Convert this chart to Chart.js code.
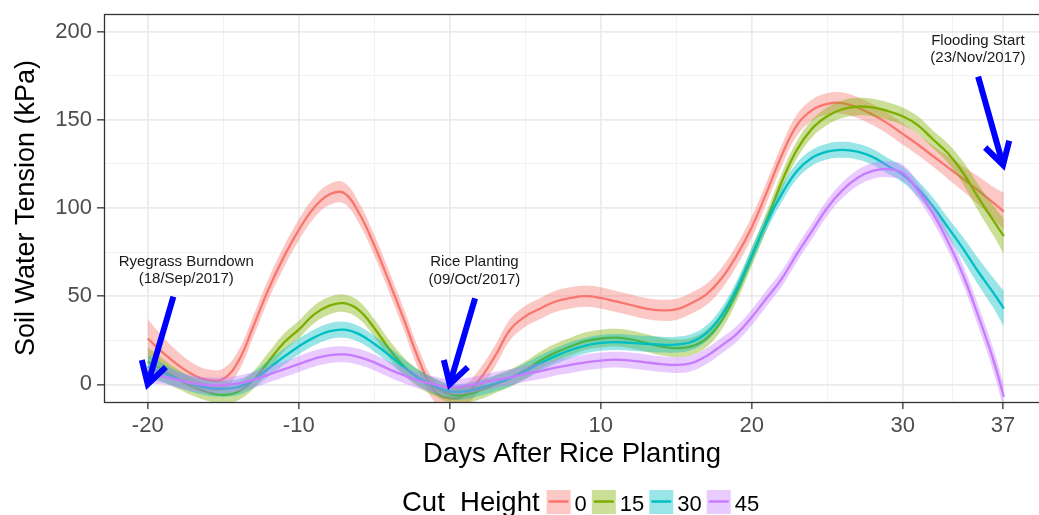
<!DOCTYPE html>
<html>
<head>
<meta charset="utf-8">
<script src="https://cdn.jsdelivr.net/npm/chart.js@4/dist/chart.umd.min.js"></script>
<style>
  html, body { margin: 0; padding: 0; background: #fff; }
  #wrap { width: 1039px; height: 515px; }
</style>
</head>
<body>
<div id="wrap"><canvas id="c" width="1039" height="515"></canvas></div>
<script>
// Soil water tension, loess fits per cut height with their confidence bands.
const days = [
  -20, -19, -18, -17, -16, -15, -14, -13, -12, -11,
  -10, -9, -8, -7, -6, -5, -4, -3, -2, -1,
  0, 1, 2, 3, 4, 5, 6, 7, 8, 9,
  10, 11, 12, 13, 14, 15, 16, 17, 18, 19,
  20, 21, 22, 23, 24, 25, 26, 27, 28, 29,
  30, 31, 32, 33, 34, 35, 36, 36.7
];

const cutHeights = ['0', '15', '30', '45'];
const cutColors  = ['#F8766D', '#7CAE00', '#00BFC4', '#C77CFF'];

const fit0 = [
  26, 18, 11, 5.5, 2.5, 3, 13, 33, 54, 72,
  87.5, 100, 107.5, 108.5, 97, 79, 58, 36, 13, -4,
  -8, -6, 3, 16, 31, 38.5, 43, 47, 49, 50,
  49, 47, 45, 43, 42, 42.5, 46, 51, 60, 73,
  89, 109, 130, 147, 155.5, 159, 159.5, 157, 153, 148,
  142, 136, 129.5, 123, 116.5, 110, 103, 98
];
const fit15 = [
  13, 8, 3, -1.5, -4.5, -6, -4, 2.5, 13, 23.5,
  31, 39.5, 44.5, 46, 42, 32, 20, 10, 3, -1.5,
  -5.5, -6, -3.5, 0, 3.5, 8, 13.5, 18, 21.5, 24.5,
  26, 26.5, 25.5, 23.5, 21.5, 20.5, 21.5, 26, 36, 52,
  72, 93, 115, 133, 145, 152, 156, 157.5, 157, 155,
  152, 147, 139, 131, 120, 106, 93, 84
];
const fit30 = [
  10, 6.5, 3, 0, -2, -2.5, -1.5, 2.5, 9, 15.5,
  21.5, 26.5, 30, 31, 28.5, 23, 16.5, 9.5, 3.5, -1,
  -4, -4, -2, 0.5, 3.5, 7.5, 12, 16, 19.5, 22,
  23.5, 24, 23.5, 23, 22.5, 22.5, 24, 29, 39, 54,
  73, 92, 108, 121, 128.5, 132, 133, 132, 129, 124,
  119, 111, 101, 89, 77, 64, 52, 43
];
const fit45 = [
  6, 4.5, 2.5, 0.5, -0.5, -0.5, 0.5, 2.5, 5.5, 8.5,
  11.5, 14.5, 16.5, 17, 15.5, 12.5, 8.5, 5, 2, 0,
  -1.5, -1, 0.5, 2.5, 4, 6, 7.5, 9.5, 11, 12.5,
  13.5, 14, 13.5, 12.5, 11.5, 11, 12, 16, 22, 28.5,
  38, 49, 60, 74, 87, 100, 110, 117, 121, 122,
  120, 110, 97, 81, 62, 39, 14, -7
];

// half-width of the 95% band around each fit
const ci0 = [
  11, 9, 7.5, 6.5, 6, 6, 6, 6, 6, 6,
  6, 6, 6, 6, 6, 6, 6, 6, 6, 6,
  6, 6, 6, 6, 6, 6, 6, 6, 6, 6,
  6, 6, 6, 6, 6, 6, 6, 6, 6, 6,
  6, 6, 6, 6, 6, 6, 6, 6, 6, 6,
  6, 6, 6, 6.5, 7, 8, 9, 10.5
];
const ci15 = [
  8, 6.5, 5.5, 5, 5, 5, 5, 5, 5, 5,
  5, 5, 5, 5, 5, 5, 5, 5, 5, 5,
  5, 5, 5, 5, 5, 5, 5, 5, 5, 5,
  5, 5, 5, 5, 5, 5, 5, 5, 5, 5,
  5, 5, 5, 5, 5, 5, 5, 5, 5, 5,
  5, 5, 5, 5.5, 6.5, 7.5, 8.5, 10
];
const ci30 = [
  6.5, 5.5, 4.5, 4.5, 4.5, 4.5, 4.5, 4.5, 4.5, 4.5,
  4.5, 4.5, 4.5, 4.5, 4.5, 4.5, 4.5, 4.5, 4.5, 4.5,
  4.5, 4.5, 4.5, 4.5, 4.5, 4.5, 4.5, 4.5, 4.5, 4.5,
  4.5, 4.5, 4.5, 4.5, 4.5, 4.5, 4.5, 4.5, 4.5, 4.5,
  4.5, 4.5, 4.5, 4.5, 4.5, 4.5, 4.5, 4.5, 4.5, 4.5,
  4.5, 4.5, 5, 5.5, 6.5, 7.5, 8.5, 10
];
const ci45 = [
  5.5, 4.5, 4.5, 4.5, 4.5, 4.5, 4.5, 4.5, 4.5, 4.5,
  4.5, 4.5, 4.5, 4.5, 4.5, 4.5, 4.5, 4.5, 4.5, 4.5,
  4.5, 4.5, 4.5, 4.5, 4.5, 4.5, 4.5, 4.5, 4.5, 4.5,
  4.5, 4.5, 4.5, 4.5, 4.5, 4.5, 4.5, 4.5, 4.5, 4.5,
  4.5, 4.5, 4.5, 4.5, 4.5, 4.5, 4.5, 4.5, 4.5, 4.5,
  4.5, 4.5, 5, 5, 5.5, 6, 6.5, 7
];

const xBreaks      = [-20, -10, 0, 10, 20, 30, 36.65];
const xBreakLabels = ['-20', '-10', '0', '10', '20', '30', '37'];
const xMinorBreaks = [-15, -5, 5, 15, 25, 33.33];
const yBreaks      = [0, 50, 100, 150, 200];
const yMinorBreaks = [25, 75, 125, 175];

// event notes: text lines, label centre, arrow tail and tip (days, kPa)
const noteLines = [
  ['Ryegrass Burndown', '(18/Sep/2017)'],
  ['Rice Planting', '(09/Oct/2017)'],
  ['Flooding Start', '(23/Nov/2017)']
];
const noteX     = [-17.45, 1.64, 34.98];
const noteY     = [69.5, 69.2, 194.7];
const arrowFrom = [[-18.3, 49.7], [1.68, 48.8], [35.0, 174.5]];
const arrowTo   = [[-20, 0], [0, 0], [36.65, 124.4]];

const FONT = '"Liberation Sans", Arial, Helvetica, sans-serif';

function withAlpha(hex, a) {
  const n = parseInt(hex.slice(1), 16);
  return `rgba(${n >> 16},${(n >> 8) & 255},${n & 255},${a})`;
}

const fits = [fit0, fit15, fit30, fit45];
const cis  = [ci0, ci15, ci30, ci45];
const datasets = [];
fits.forEach((fit, k) => {
  const ci = cis[k];
  const base = (4 - k) * 3;   // higher order is painted first
  const common = { pointRadius: 0, tension: 0.4, xAxisID: 'x', yAxisID: 'y' };
  datasets.push({ ...common, label: cutHeights[k] + ' hi',
    data: days.map((d, i) => ({ x: d, y: fit[i] + ci[i] })),
    borderWidth: 0, backgroundColor: withAlpha(cutColors[k], 0.4), fill: '+1', order: base + 2 });
  datasets.push({ ...common, label: cutHeights[k] + ' lo',
    data: days.map((d, i) => ({ x: d, y: fit[i] - ci[i] })),
    borderWidth: 0, fill: false, order: base + 1 });
  datasets.push({ ...common, label: cutHeights[k],
    data: days.map((d, i) => ({ x: d, y: fit[i] })),
    borderColor: cutColors[k], borderWidth: 2.3, fill: false, order: base });
});

const X_MIN = -22.83, X_MAX = 39.03, Y_MIN = -10, Y_MAX = 210;

// panel border, the dated arrows and the legend underneath
const decor = {
  id: 'decor',
  afterDatasetsDraw(chart) {
    const { ctx, chartArea: a, scales: { x, y } } = chart;
    ctx.save();
    ctx.strokeStyle = '#333';
    ctx.lineWidth = 1.3;
    ctx.strokeRect(a.left - 0.5, a.top + 0.5, a.right - a.left + 20, a.bottom - a.top);

    ctx.strokeStyle = '#0000FF';
    ctx.lineWidth = 6;
    ctx.lineCap = 'butt';
    ctx.lineJoin = 'miter';
    arrowFrom.forEach((from, i) => {
      const x0 = x.getPixelForValue(from[0]), y0 = y.getPixelForValue(from[1]);
      const x1 = x.getPixelForValue(arrowTo[i][0]), y1 = y.getPixelForValue(arrowTo[i][1]);
      const ang = Math.atan2(y1 - y0, x1 - x0);
      const len = 25, spread = Math.PI / 6;
      ctx.beginPath();
      ctx.moveTo(x0, y0);
      ctx.lineTo(x1 - 3 * Math.cos(ang), y1 - 3 * Math.sin(ang));
      ctx.stroke();
      ctx.beginPath();
      ctx.moveTo(x1 - len * Math.cos(ang - spread), y1 - len * Math.sin(ang - spread));
      ctx.lineTo(x1, y1);
      ctx.lineTo(x1 - len * Math.cos(ang + spread), y1 - len * Math.sin(ang + spread));
      ctx.stroke();
    });

    ctx.fillStyle = '#1a1a1a';
    ctx.font = `15px ${FONT}`;
    ctx.textAlign = 'center';
    ctx.textBaseline = 'middle';
    noteLines.forEach((lines, i) => {
      const cx = x.getPixelForValue(noteX[i]);
      const cy = y.getPixelForValue(noteY[i]);
      lines.forEach((t, j) => ctx.fillText(t, cx, cy + j * 17.3));
    });
    ctx.restore();
  },
  afterDraw(chart) {
    const { ctx } = chart;
    ctx.save();
    ctx.textBaseline = 'alphabetic';
    ctx.textAlign = 'left';
    ctx.fillStyle = '#000';
    ctx.font = `27.5px ${FONT}`;
    let px = 402;
    const baseY = 510.5;
    ctx.fillText('Cut  Height', px, baseY);
    px += ctx.measureText('Cut  Height').width + 7;
    cutHeights.forEach((lab, k) => {
      ctx.fillStyle = withAlpha(cutColors[k], 0.4);
      ctx.fillRect(px, 490, 24, 24);
      ctx.strokeStyle = cutColors[k];
      ctx.lineWidth = 2.5;
      ctx.beginPath();
      ctx.moveTo(px + 2, 501.5);
      ctx.lineTo(px + 22, 501.5);
      ctx.stroke();
      px += 24 + 4;
      ctx.fillStyle = '#000';
      ctx.font = `22px ${FONT}`;
      ctx.fillText(lab, px, baseY);
      px += ctx.measureText(lab).width + 5;
    });
    ctx.restore();
  }
};

// scales keep no extra margin for their end labels: the panel edges are fixed
function noMargins(s) {
  s.paddingTop = 0; s.paddingBottom = 0; s.paddingLeft = 0; s.paddingRight = 0;
}

const minorAxis = (pos, breaks, min, max, isX) => ({
  type: 'linear', position: pos, min, max, display: true,
  afterBuildTicks: s => { s.ticks = breaks.map(v => ({ value: v })); },
  ticks: { display: false },
  grid: { color: '#F2F2F2', lineWidth: 1, drawTicks: false },
  border: { display: false },
  afterFit: s => { if (isX) s.height = 0; else s.width = 0; noMargins(s); }
});

new Chart(document.getElementById('c'), {
  type: 'line',
  data: { datasets },
  options: {
    responsive: false,
    animation: false,
    events: [],
    layout: { padding: { top: 14, left: 0, right: 0, bottom: 0 } },
    plugins: { legend: { display: false }, tooltip: { enabled: false } },
    scales: {
      xMinor: minorAxis('bottom', xMinorBreaks, X_MIN, X_MAX, true),
      yMinor: minorAxis('left', yMinorBreaks, Y_MIN, Y_MAX, false),
      x: {
        type: 'linear', position: 'bottom', min: X_MIN, max: X_MAX,
        afterBuildTicks: s => { s.ticks = xBreaks.map(v => ({ value: v })); },
        ticks: { callback: (v, i) => xBreakLabels[i], autoSkip: false, maxRotation: 0,
                 color: '#4D4D4D', font: { family: FONT, size: 22 }, padding: 3.5 },
        grid: { color: '#EBEBEB', lineWidth: 1.7, tickColor: '#333', tickLength: 7, tickWidth: 1.3 },
        border: { display: false },
        title: { display: true, text: 'Days After Rice Planting', color: '#000',
                 font: { family: FONT, size: 27.5 }, padding: { top: 0, bottom: 44.5 } },
        afterFit: s => { s.height = 113; noMargins(s); }
      },
      y: {
        type: 'linear', position: 'left', min: Y_MIN, max: Y_MAX,
        afterBuildTicks: s => { s.ticks = yBreaks.map(v => ({ value: v })); },
        ticks: { color: '#4D4D4D', font: { family: FONT, size: 22 }, padding: 5 },
        grid: { color: '#EBEBEB', lineWidth: 1.7, tickColor: '#333', tickLength: 8, tickWidth: 1.3 },
        border: { display: false },
        title: { display: true, text: 'Soil Water Tension (kPa)', color: '#000',
                 font: { family: FONT, size: 27 }, padding: { top: 10.8, bottom: 0 } },
        afterFit: s => { s.width = 105; noMargins(s); }
      }
    }
  },
  plugins: [decor]
});
</script>
</body>
</html>
